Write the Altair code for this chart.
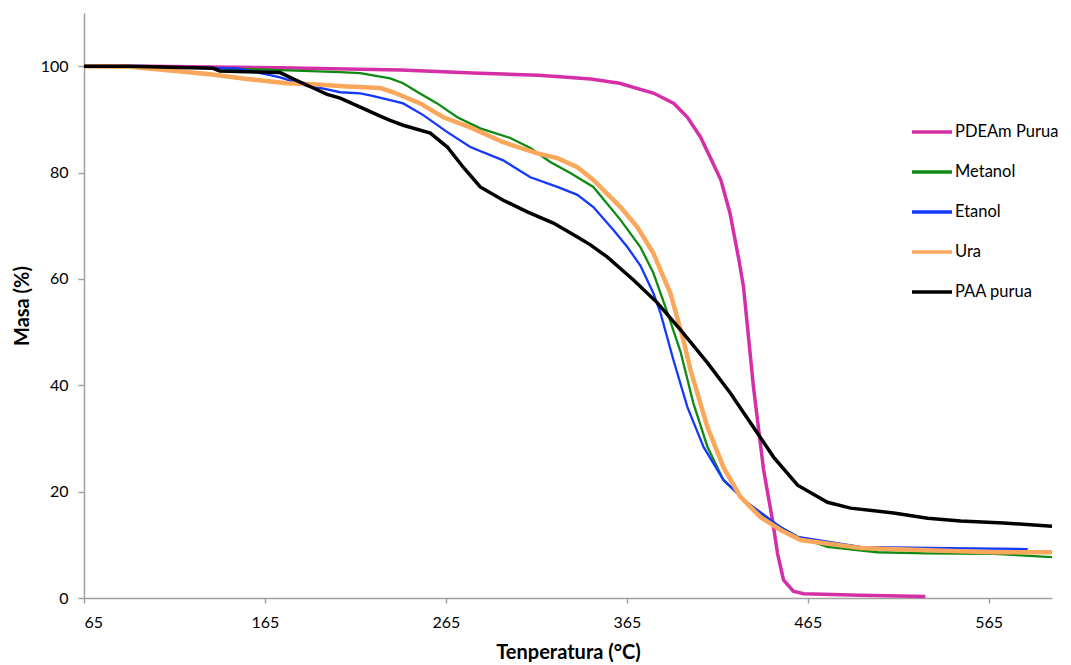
import altair as alt
import pandas as pd

series_names = ["PDEAm Purua", "Metanol", "Etanol", "Ura", "PAA purua"]
series_colors = ["#D42FA6", "#0E8A12", "#1538FF", "#F9A75A", "#000000"]
series_widths = [3.5, 2.3, 2.3, 4.5, 3.5]

pdeam_t = [65, 100, 173, 240, 280, 316, 332, 345, 361, 380, 391, 398.5, 405.7, 411, 417, 422, 427, 429.5,
           435, 440.6, 445.5, 448.3, 451.6, 457, 462.7, 494, 530]
pdeam_m = [100, 100, 99.7, 99.3, 98.7, 98.3, 97.9, 97.6, 96.8, 94.9, 93.0, 90.4, 86.7, 82.9, 78.6, 72.4, 63.5, 58.5,
           39.7, 24.1, 14.7, 8.4, 3.4, 1.3, 0.8, 0.5, 0.3]

metanol_t = [65, 101, 161, 206.6, 217.7, 234.2, 241.4, 250, 260.2, 271.3, 284, 300.6, 311.7, 322.7, 333.8, 346.5,
             361.5, 372.5, 379.7, 387.5, 394.7, 401.8, 409.6, 418.4, 431.7, 446.1, 459.4, 475.9, 503.6, 531.3,
             567.8, 600]
metanol_m = [100, 99.9, 99.4, 98.9, 98.7, 97.7, 96.8, 95.0, 93.0, 90.4, 88.3, 86.5, 84.6, 82.0, 79.9, 77.3,
             71.1, 66.0, 61.1, 53.6, 46.3, 36.6, 28.4, 22.2, 17.9, 14.1, 11.5, 9.6, 8.6, 8.4,
             8.3, 7.7]

etanol_t = [65, 90.4, 149.6, 167.9, 173.4, 190, 195.5, 206.6, 217.7, 223.2, 234.2, 241.4, 252.5, 265.8, 278.5,
            296.7, 311.7, 326.6, 337.7, 346.5, 357.6, 365.3, 372.5, 379.7, 383.6, 390.8, 398.5, 407.4, 418.4,
            431.7, 450, 459.4, 494.2, 531.3, 586.6]
etanol_m = [100, 99.9, 99.6, 98.3, 97.9, 96.1, 95.9, 95.1, 94.9, 94.5, 93.6, 93.0, 90.8, 87.6, 84.8,
            82.3, 79.1, 77.3, 75.8, 73.5, 69.2, 66.0, 62.5, 57.3, 53.6, 44.7, 35.9, 28.4, 22.2,
            17.9, 13.3, 11.5, 9.6, 9.4, 9.2]

ura_t = [65, 90.4, 112.6, 134.7, 155.2, 177.3, 191.7, 210.5, 228.7, 236, 250.8, 263.6, 278.5, 296.7, 315.6,
         326.6, 337.7, 346.5, 361.5, 370.9, 379.7, 389.1, 396.3, 400.2, 409.6, 418.4, 427.8, 438.9, 450.0,
         461.1, 494.2, 531.3, 567.8, 600]
ura_m = [100, 99.9, 99.2, 98.5, 97.6, 96.8, 96.6, 96.2, 95.9, 95.1, 93.0, 90.4, 88.5, 85.7, 83.6,
         82.7, 81.0, 78.6, 73.5, 69.7, 64.8, 57.3, 48.5, 42.9, 32.1, 24.6, 19.0, 15.2, 12.8,
         10.9, 9.4, 9.0, 8.6, 8.6]

paa_t = [65, 90.4, 136.3, 140, 162.3, 173.4, 180.6, 191.7, 199.4, 206.6, 217.7, 228.7, 234.2, 241.4, 256.4,
         265.8, 274.6, 284.0, 296.7, 310.0, 324.4, 337.7, 344.9, 354.3, 368.7, 381.9, 394.7, 409.6, 422.3,
         435.0, 446.1, 459.4, 475.9, 488.7, 512.5, 531.3, 549.5, 573.3, 600]
paa_m = [100, 100, 99.6, 99.1, 98.9, 98.8, 97.6, 95.9, 94.7, 94.0, 92.3, 90.6, 89.8, 88.9, 87.4,
         84.8, 81.0, 77.3, 74.8, 72.6, 70.5, 67.9, 66.4, 64.1, 59.8, 55.5, 50.4, 44.2, 38.5,
         32.1, 26.5, 21.2, 18.0, 16.9, 16.0, 15.0, 14.5, 14.1, 13.5]

x_ticks = [65, 165, 265, 365, 465, 565]
y_ticks = [0, 20, 40, 60, 80, 100]

all_t = [pdeam_t, metanol_t, etanol_t, ura_t, paa_t]
all_m = [pdeam_m, metanol_m, etanol_m, ura_m, paa_m]

rows = []
for name, ts, ms in zip(series_names, all_t, all_m):
    for i, (t, m) in enumerate(zip(ts, ms)):
        rows.append({"serie": name, "T": t, "M": m, "i": i})
df = pd.DataFrame(rows)

FONT = "Lato"

color = alt.Color(
    "serie:N",
    sort=series_names,
    scale=alt.Scale(domain=series_names, range=series_colors),
    legend=alt.Legend(
        title=None,
        orient="none",
        legendX=826,
        legendY=97,
        symbolType="stroke",
        symbolSize=1600,
        symbolStrokeWidth=3.5,
        labelFont=FONT,
        labelFontSize=16.5,
        labelColor="#000000",
        labelOffset=1,
        labelLimit=300,
        rowPadding=9,
        padding=0,
    ),
)

layers = []
for name, w in zip(series_names, series_widths):
    layers.append(
        alt.Chart(df)
        .transform_filter(alt.datum.serie == name)
        .mark_line(strokeWidth=w, interpolate="linear")
        .encode(
            x=alt.X(
                "T:Q",
                scale=alt.Scale(domain=[65, 600], nice=False, zero=False),
                axis=alt.Axis(
                    values=x_ticks,
                    title="Tenperatura (°C)",
                    grid=False,
                    tickSize=5,
                    labelPadding=11,
                    titlePadding=12,
                ),
            ),
            y=alt.Y(
                "M:Q",
                scale=alt.Scale(domain=[0, 110], nice=False),
                axis=alt.Axis(
                    values=y_ticks,
                    title="Masa (%)",
                    grid=False,
                    tickSize=6,
                    labelPadding=10,
                    titlePadding=8,
                ),
            ),
            color=color,
            order="i:Q",
        )
    )

chart = (
    alt.layer(*layers)
    .properties(
        width=968,
        height=585,
        autosize=alt.AutoSizeParams(type="none"),
        padding={"left": 76, "top": 5, "right": 10, "bottom": 64},
    )
    .configure_view(stroke=None)
    .configure_axis(
        domainColor="#A0A0A0",
        domainWidth=1.5,
        tickColor="#A0A0A0",
        tickWidth=1.5,
        labelFont=FONT,
        labelFontSize=16,
        labelColor="#000000",
        titleFont=FONT,
        titleFontSize=20,
        titleFontWeight="bold",
        titleColor="#000000",
    )
)

chart.save("out.html", embed_options={"renderer": "svg", "actions": False})
